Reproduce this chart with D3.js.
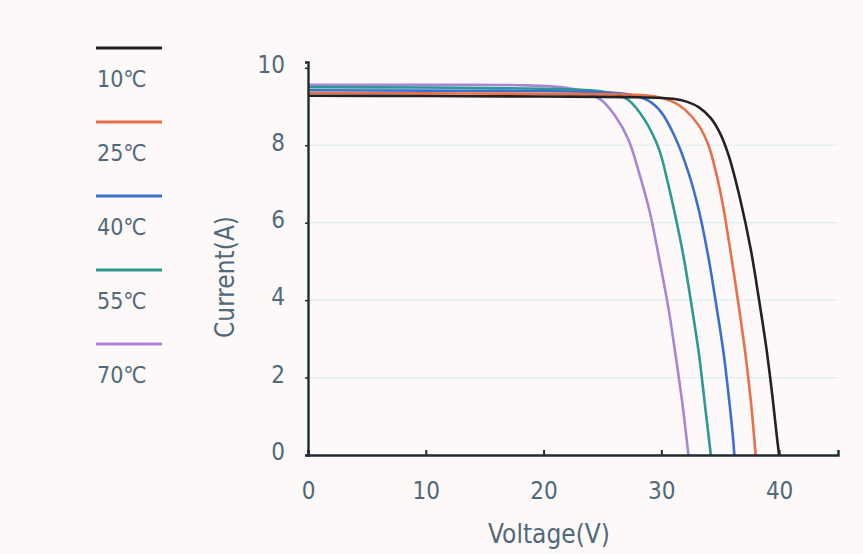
<!DOCTYPE html>
<html>
<head>
<meta charset="utf-8">
<script src="https://cdn.jsdelivr.net/npm/d3@7"></script>
<style>
  body { margin: 0; background: #fcf9f8; }
  text { font-family: "DejaVu Sans Condensed", "DejaVu Sans", sans-serif; font-stretch: condensed; fill: #52697a; }
</style>
</head>
<body>
<div id="chart"></div>
<script>
// temperatures and colours of the I-V curves
const labels = ["10℃", "25℃", "40℃", "55℃", "70℃"];
const colors = ["#222222", "#ea6f48", "#3c6fd2", "#2c9a93", "#a985d6"];

// [voltage, current] points
const curve10 = [[0,9.28],[10,9.27],[20,9.26],[28,9.24],[31,9.2],[32.2,9.12],[33.2,8.98],[34.2,8.7],[35,8.3],[35.7,7.75],[36.7,6.6],[37.6,5.3],[38.3,4.0],[38.9,2.8],[39.4,1.6],[39.8,0.5],[40,0]];
const curve25 = [[0,9.35],[10,9.34],[20,9.33],[27,9.31],[29.5,9.26],[31,9.12],[32,8.92],[33.2,8.5],[34,8.0],[34.6,7.35],[35.2,6.5],[35.8,5.4],[36.5,4.0],[37.1,2.7],[37.6,1.4],[37.9,0.4],[38,0]];
const curve40 = [[0,9.42],[10,9.41],[20,9.4],[25,9.37],[27.5,9.3],[28.9,9.15],[30,8.85],[31.1,8.25],[32.3,7.3],[33.2,6.3],[34,5.1],[34.7,3.8],[35.3,2.6],[35.8,1.3],[36.1,0.4],[36.2,0]];
const curve55 = [[0,9.5],[10,9.49],[20,9.46],[24,9.42],[26,9.33],[27.2,9.17],[28.6,8.65],[29.8,7.9],[30.5,7.1],[31.1,6.3],[31.9,5.1],[32.6,3.8],[33.2,2.6],[33.7,1.3],[34.05,0.4],[34.2,0]];
const curve70 = [[0,9.56],[10,9.56],[18,9.55],[22,9.48],[23.8,9.35],[24.9,9.17],[26.1,8.75],[27.2,8.15],[28.1,7.3],[29.0,6.3],[29.8,5.1],[30.6,3.8],[31.2,2.6],[31.8,1.3],[32.15,0.4],[32.3,0]];
const curves = [curve10, curve25, curve40, curve55, curve70];

const xTicks = [0, 10, 20, 30, 40];
const yTicks = [0, 2, 4, 6, 8, 10];
const gridValues = [2, 4, 6, 8];

const width = 863, height = 554;
const margin = {top: 62, right: 25, bottom: 99, left: 308};

const svg = d3.select("#chart").append("svg")
    .attr("width", width)
    .attr("height", height);

const x = d3.scaleLinear().domain([0, 45]).range([margin.left, width - margin.right]);
const y = d3.scaleLinear().domain([0, 10.15]).range([height - margin.bottom, margin.top]);

// grid lines
svg.append("g")
    .selectAll("line")
    .data(gridValues)
    .join("line")
    .attr("x1", x(0))
    .attr("x2", x(45))
    .attr("y1", d => y(d))
    .attr("y2", d => y(d))
    .attr("stroke", "#e2edf2")
    .attr("stroke-width", 1.2);

// curves
const line = d3.line()
    .x(d => x(d[0]))
    .y(d => y(d[1]))
    .curve(d3.curveCatmullRom.alpha(0.5));

// draw hottest first so the black one ends up on top
for (let i = curves.length - 1; i >= 0; i--) {
    svg.append("path")
        .datum(curves[i])
        .attr("fill", "none")
        .attr("stroke", colors[i])
        .attr("stroke-width", 2.6)
        .attr("d", line);
}

// x axis
const xAxis = svg.append("g")
    .attr("transform", `translate(0,${y(0)})`)
    .call(d3.axisBottom(x).tickValues(xTicks).tickSize(-5).tickPadding(27).tickFormat(d3.format("d")));
xAxis.select(".domain").attr("stroke", "#1f2d33").attr("stroke-width", 2.4);
xAxis.selectAll(".tick line").attr("stroke", "#1f2d33").attr("stroke-width", 2);
xAxis.selectAll(".tick text").style("font-size", "24px").style("fill", "#52697a");

// y axis
const yAxis = svg.append("g")
    .attr("transform", `translate(${x(0)},0)`)
    .call(d3.axisLeft(y).tickValues(yTicks).tickSize(3).tickPadding(20).tickFormat(d3.format("d")));
yAxis.select(".domain").attr("stroke", "#1f2d33").attr("stroke-width", 2.4);
yAxis.selectAll(".tick line").attr("stroke", "#1f2d33").attr("stroke-width", 1.5);
yAxis.selectAll(".tick text").style("font-size", "24px").style("fill", "#52697a").attr("dy", "0.2em");
xAxis.attr("font-family", null);
yAxis.attr("font-family", null);

// axis titles
svg.append("text")
    .attr("x", 549)
    .attr("y", 543)
    .attr("text-anchor", "middle")
    .style("font-size", "26px")
    .text("Voltage(V)");

svg.append("text")
    .attr("transform", "translate(234,277) rotate(-90)")
    .attr("text-anchor", "middle")
    .style("font-size", "26px")
    .text("Current(A)");

// legend
const legend = svg.append("g")
    .selectAll("g")
    .data(labels)
    .join("g")
    .attr("transform", (d, i) => `translate(96,${48 + i * 74})`);

legend.append("line")
    .attr("x1", 0)
    .attr("x2", 66)
    .attr("stroke", (d, i) => colors[i])
    .attr("stroke-width", 2.8);

legend.append("text")
    .attr("x", 1)
    .attr("y", 39)
    .style("font-size", "23px")
    .text(d => d);
</script>
</body>
</html>
